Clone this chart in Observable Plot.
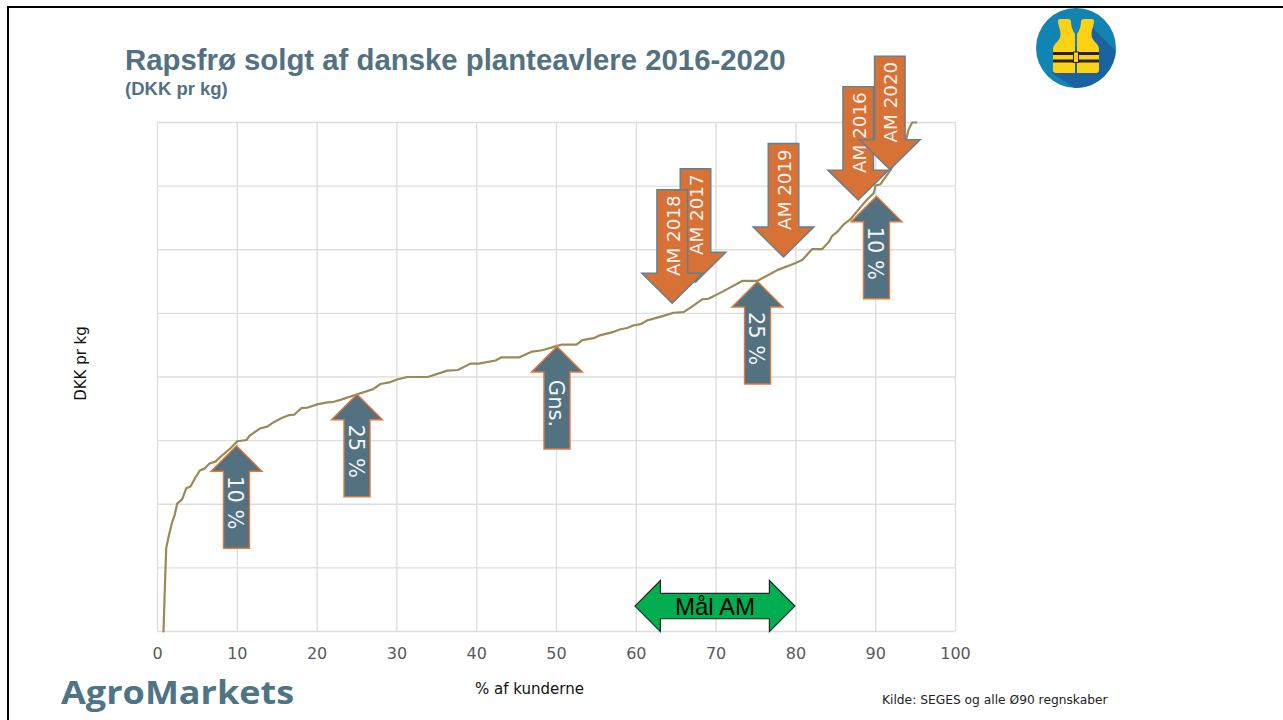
<!DOCTYPE html>
<html lang="da">
<head>
<meta charset="utf-8">
<script src="https://cdn.jsdelivr.net/npm/d3@7"></script>
<script src="https://cdn.jsdelivr.net/npm/@observablehq/plot@0.6"></script>
<style>
html,body{margin:0;padding:0;background:#fff;overflow:hidden}
#page{position:relative;width:1283px;height:720px;overflow:hidden}
#frame{position:absolute;left:7px;top:6px;right:-10px;bottom:-10px;border:2px solid #000;border-left-width:2.5px}
.t{position:absolute;white-space:nowrap;line-height:1}
#title{left:125px;top:43px;font:bold 29.35px "Liberation Sans",sans-serif;color:#527181}
#sub{left:125px;top:78px;font:bold 18.5px "Liberation Sans",sans-serif;color:#527181}
#logo{left:61px;top:670px;font:700 32px "Open Sans",sans-serif;color:#4f7485;transform:scaleX(1.126);transform-origin:left center}
#source{left:882px;top:693px;font:12.25px "DejaVu Sans",sans-serif;color:#222}
#vest{position:absolute;left:1030px;top:2px}
#chart{position:absolute;left:0;top:0}
</style>
</head>
<body>
<div id="page">
<div id="frame"></div>
<div id="chart"></div>
<div class="t" id="title">Rapsfrø solgt af danske planteavlere 2016-2020</div>
<div class="t" id="sub">(DKK pr kg)</div>
<div class="t" id="logo">AgroMarkets</div>
<div class="t" id="source">Kilde: SEGES og alle Ø90 regnskaber</div>
<svg id="vest" width="92" height="92" viewBox="1030 2 92 92">
  <defs><clipPath id="disc"><circle cx="1076" cy="48" r="40"/></clipPath></defs>
  <circle cx="1076" cy="48" r="40" fill="#1184b4"/>
  <path d="M1093,28 L1125,60 L1125,95 L1085,95 L1052,73 Z" fill="#1a62a0" clip-path="url(#disc)"/>
  <path d="M1060,19 H1068 Q1071,19 1071,22 Q1071,28 1075,34 V73 H1056 Q1053,73 1053,70 V50 Q1053,45 1057,42 Q1062,37 1060,30 Q1058,24 1058,21 Q1058,19 1060,19 Z" fill="#fdd116"/>
  <path d="M1092,19 H1084 Q1081,19 1081,22 Q1081,28 1077,34 V73 H1096 Q1099,73 1099,70 V50 Q1099,45 1095,42 Q1090,37 1092,30 Q1094,24 1094,21 Q1094,19 1092,19 Z" fill="#fdd116"/>
  <rect x="1053" y="52" width="46" height="3" fill="#2a2416"/>
  <rect x="1053" y="59.5" width="46" height="3" fill="#2a2416"/>
  <rect x="1073.5" y="52" width="5" height="10.5" fill="#fdd116" stroke="#2a2416" stroke-width="1"/>
</svg>
</div>
<script>
// Reference lines
const xTicks = [0, 10, 20, 30, 40, 50, 60, 70, 80, 90, 100];
const yGrid = [0, 1, 2, 3, 4, 5, 6, 7, 8];

// Sorted customer curve (% of customers, price band)
const curveX = [0.75,0.91,1.09,1.42,1.84,2.13,2.47,3.10,3.60,4.14,4.76,5.30,5.89,6.52,7.27,8.11,9.15,9.99,11.15,11.57,12.82,13.75,14.57,15.63,16.45,17.17,18.01,18.83,20.01,21.27,22.09,22.93,25.03,27.03,27.94,29.2,30.04,31.29,33.87,36.3,37.63,39.22,40.26,42.36,43.11,45.36,46.95,48.21,50.09,50.71,52.51,53.22,54.67,55.3,57.18,58.02,58.86,59.61,60.53,61.37,63.41,64.66,65.91,66.79,68.26,69.05,70.93,73.27,75.15,76.19,77.66,79.74,80.79,82.04,83.3,84.12,84.55,85.18,86.0,86.84,88.1,88.93,89.76,89.97,90.6,91.85,93.73,94.1,94.57,95.1];
const curveY = [0,0.64,1.31,1.51,1.72,1.82,2.01,2.08,2.25,2.28,2.42,2.53,2.56,2.64,2.67,2.77,2.88,2.99,3.01,3.08,3.19,3.22,3.29,3.36,3.40,3.41,3.51,3.52,3.57,3.60,3.61,3.64,3.73,3.81,3.89,3.92,3.96,4.00,4.00,4.10,4.11,4.21,4.21,4.26,4.31,4.31,4.40,4.42,4.49,4.51,4.51,4.58,4.61,4.65,4.71,4.75,4.77,4.81,4.83,4.89,4.96,5.01,5.02,5.09,5.22,5.23,5.35,5.51,5.51,5.58,5.68,5.78,5.84,6.01,6.01,6.12,6.22,6.28,6.40,6.48,6.67,6.79,6.89,7.01,7.03,7.25,7.69,7.88,8.0,8.0];

// Upward markers (percentile / average)
const upLabels = ["10 %", "25 %", "Gns.", "25 %", "10 %"];
const upX = [9.9, 25.0, 50.06, 75.19, 90.1];
const upY = [2.92, 3.73, 4.48, 5.50, 6.84];

// Downward markers (AM by year), in stacking order
const downLabels = ["AM 2017", "AM 2018", "AM 2019", "AM 2016", "AM 2020"];
const downX = [67.42, 64.5, 78.45, 87.81, 91.77];
const downY = [5.49, 5.16, 5.885, 6.78, 7.26];

// Target range marker
const targetLabel = ["Mål AM"];
const targetX = [69.85];
const targetY = [0.40];

const rows = (labels, xs, ys) => labels.map((label, i) => ({label, x: xs[i], y: ys[i]}));
const curve = curveX.map((x, i) => ({x, y: curveY[i]}));
const ups = rows(upLabels, upX, upY);
const downs = rows(downLabels, downX, downY);
const target = rows(targetLabel, targetX, targetY);

// Symbols with their origin at the arrow tip
const poly = (ctx, pts) => { pts.forEach(([a, b], i) => i ? ctx.lineTo(a, b) : ctx.moveTo(a, b)); ctx.closePath(); };
const upArrow = {draw(ctx) { poly(ctx, [[0,0],[25.5,25.5],[13,25.5],[13,102.5],[-13,102.5],[-13,25.5],[-25.5,25.5]]); }};
const downArrow = {draw(ctx) { poly(ctx, [[0,0],[30.4,-30],[15.3,-30],[15.3,-113.5],[-15.3,-113.5],[-15.3,-30],[-30.4,-30]]); }};
const bothArrow = {draw(ctx) { poly(ctx, [[-80,0],[-54.5,-25.5],[-54.5,-12.7],[54.5,-12.7],[54.5,-25.5],[80,0],[54.5,25.5],[54.5,12.7],[-54.5,12.7],[-54.5,25.5]]); }};

const gridColor = "#dedede";
const steel = "#527181";
const orange = "#d87136";

const chart = Plot.plot({
  width: 1283, height: 720,
  marginLeft: 157, marginRight: 328, marginTop: 122, marginBottom: 89,
  style: {background: "transparent", overflow: "visible"},
  x: {domain: [0, 100]},
  y: {domain: [0, 8], axis: null},
  marks: [
    Plot.ruleX(xTicks, {stroke: gridColor, strokeWidth: 1.4}),
    Plot.ruleY(yGrid, {stroke: gridColor, strokeWidth: 1.4}),
    Plot.axisX({ticks: xTicks, tickSize: 0, tickPadding: 16, fontSize: 16, fill: "#595959", fontFamily: "DejaVu Sans", label: null}),
    Plot.text(["% af kunderne"], {frameAnchor: "bottom", dx: -27, dy: 58, lineAnchor: "middle", fontSize: 15, fontFamily: "DejaVu Sans", fill: "#111"}),
    Plot.text(["DKK pr kg"], {frameAnchor: "left", textAnchor: "middle", rotate: -90, dx: -76, dy: -13.5, fontSize: 15, fontFamily: "DejaVu Sans", fill: "#111"}),
    Plot.line(curve, {x: "x", y: "y", stroke: "#9b8a55", strokeWidth: 2.2}),
    Plot.dot(target, {x: "x", y: "y", r: 1, symbol: bothArrow, fill: "#00ae50", stroke: "#1c2b22", strokeWidth: 1.2}),
    Plot.text(target, {x: "x", y: "y", text: "label", fontSize: 24, fontFamily: "Liberation Sans", fill: "#000", dy: 1.5}),
    Plot.dot(ups, {x: "x", y: "y", r: 1, symbol: upArrow, fill: steel, stroke: "#e2763b", strokeWidth: 1.4}),
    Plot.text(ups, {x: "x", y: "y", text: "label", rotate: 90, dx: -1.5, dy: 57, fontSize: 21, fontFamily: "DejaVu Sans", fill: "#f5f5f5"}),
    ...downs.flatMap((d) => [
      Plot.dot([d], {x: "x", y: "y", r: 1, symbol: downArrow, fill: orange, stroke: "#5f8092", strokeWidth: 1.4}),
      Plot.text([d], {x: "x", y: "y", text: "label", rotate: -90, dx: 1.5, dy: -67.5, fontSize: 18.3, fontFamily: "DejaVu Sans", fill: "#f7f2ee"})
    ])
  ]
});
document.getElementById("chart").appendChild(chart);
</script>
</body>
</html>
